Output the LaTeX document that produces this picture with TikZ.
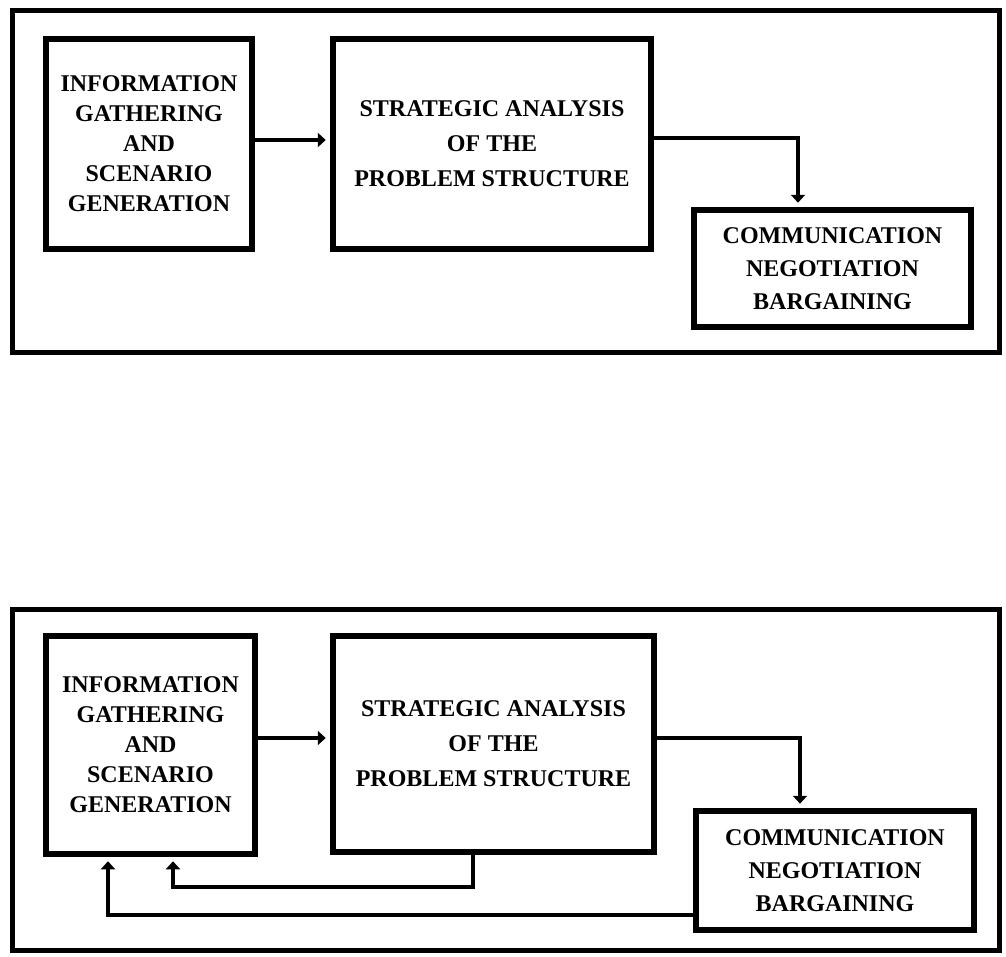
\documentclass[tikz,border=0pt]{standalone}
\usepackage{fontspec}
\setmainfont{Liberation Serif}
\usetikzlibrary{arrows.meta,calc}
\tikzset{
  block/.style={draw=black, line width=6.5pt, fill=white, align=center,
    inner sep=0pt, font=\bfseries\fontsize{24}{30}\selectfont},
  frame/.style={draw=black, line width=5pt},
  arr/.style={draw=black, line width=4.5pt,
    -{Triangle[width=14pt,length=8pt]}, shorten >=4pt},
  link/.style={draw=black, line width=4.5pt}
}
\begin{document}
\begin{tikzpicture}[x=1pt,y=-1pt]
\useasboundingbox (0,0) rectangle (1006,956);

% ---------- upper diagram: forward flow only ----------
\draw[frame] (12.5,10.5) rectangle (999.5,352.5);
\node[block, minimum width=206pt, minimum height=210pt] (A1) at (149,144)
  {INFORMATION\\GATHERING\\AND\\SCENARIO\\GENERATION};
\node[block, minimum width=318pt, minimum height=210pt,
  font=\bfseries\fontsize{24}{35}\selectfont] (B1) at (492,144)
  {STRATEGIC ANALYSIS\\OF THE\\PROBLEM STRUCTURE};
\node[block, minimum width=277pt, minimum height=117pt,
  font=\bfseries\fontsize{24}{33}\selectfont] (C1) at (832.5,268.5)
  {COMMUNICATION\\NEGOTIATION\\BARGAINING};

\draw[arr] (A1.east |- 0,140) -- (B1.west |- 0,140);
\draw[arr] (B1.east |- 0,138) -| ([xshift=-34.5pt]C1.north);

% ---------- lower diagram: with feedback loops ----------
\draw[frame] (12.5,609.5) rectangle (999.5,950.5);
\node[block, minimum width=209pt, minimum height=218pt] (A2) at (150.5,745)
  {INFORMATION\\GATHERING\\AND\\SCENARIO\\GENERATION};
\node[block, minimum width=321pt, minimum height=216pt,
  font=\bfseries\fontsize{24}{35}\selectfont] (B2) at (493.5,744)
  {STRATEGIC ANALYSIS\\OF THE\\PROBLEM STRUCTURE};
\node[block, minimum width=278pt, minimum height=119pt,
  font=\bfseries\fontsize{24}{33}\selectfont] (C2) at (835,870.5)
  {COMMUNICATION\\NEGOTIATION\\BARGAINING};

\draw[arr] (A2.east |- 0,738) -- (B2.west |- 0,738);
\draw[arr] (B2.east |- 0,738) -| ([xshift=-35pt]C2.north);

% feedback from analysis and from negotiation back to information gathering
\draw[arr] (B2.south -| 473,0) |- (173,887) -- (A2.south -| 173,0);
\draw[arr] (C2.west |- 0,915) -| (A2.south -| 108,0);
\end{tikzpicture}
\end{document}
